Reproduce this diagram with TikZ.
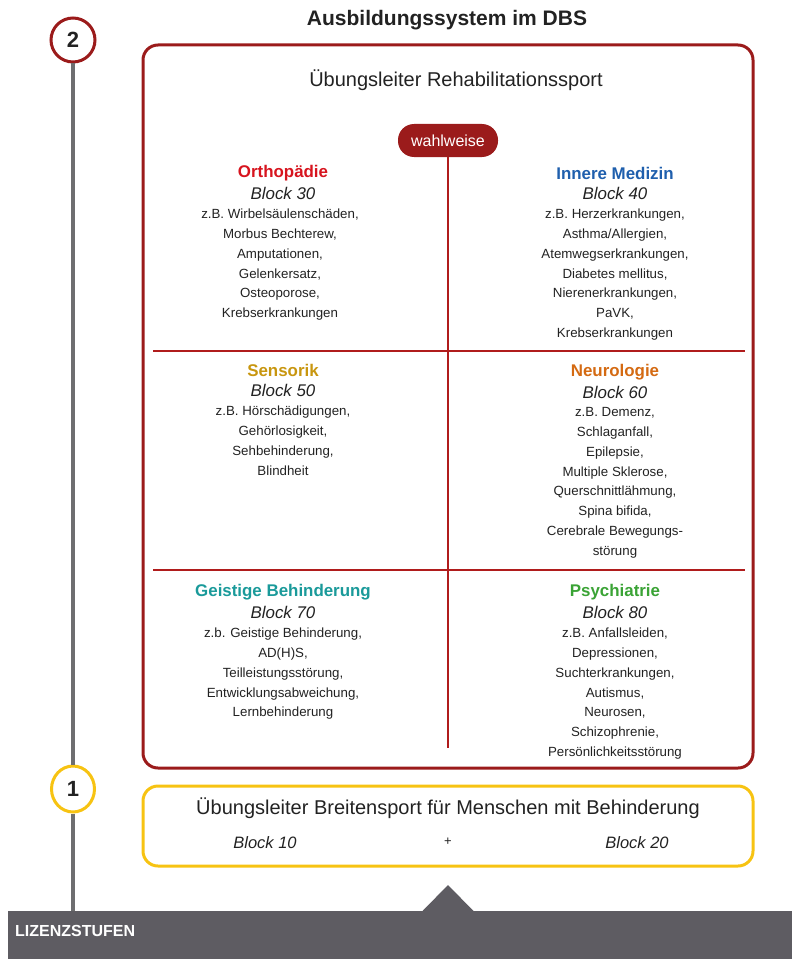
\documentclass[tikz,border=0pt]{standalone}
\usepackage{fontspec}
\usetikzlibrary{shapes.geometric}
\setmainfont{Liberation Sans}
\definecolor{dbsred}{HTML}{9B1B1B}
\definecolor{linered}{HTML}{B01C1C}
\definecolor{dbsyellow}{HTML}{F7C312}
\definecolor{barGray}{HTML}{5E5C62}
\definecolor{lineGray}{HTML}{6E6E70}
\definecolor{txt}{HTML}{222222}
\definecolor{cOrtho}{HTML}{D7141E}
\definecolor{cInnere}{HTML}{1F5FAD}
\definecolor{cSens}{HTML}{C8960F}
\definecolor{cNeuro}{HTML}{D46A12}
\definecolor{cGeist}{HTML}{1A9A9A}
\definecolor{cPsych}{HTML}{3AA335}
\tikzset{
  head/.style={font=\fontsize{16.9}{18}\selectfont\bfseries, inner sep=0pt, anchor=center},
  blk/.style={font=\fontsize{16.9}{18}\selectfont\itshape, text=txt, inner sep=0pt, anchor=center},
  items/.style={font=\fontsize{13.3}{19.8}\selectfont, text=txt, inner sep=0pt, anchor=base, align=center},
  numcircle/.style={circle, draw=#1, line width=3pt, fill=white, minimum size=44pt, inner sep=0pt,
     font=\fontsize{22}{22}\selectfont\bfseries, text=txt},
  divider/.style={draw=linered, line width=1.6pt},
}
\begin{document}
\begin{tikzpicture}[x=1pt,y=-1pt]
\useasboundingbox (0,0) rectangle (800,971);
% bottom bar
\fill[barGray] (8,911) rectangle (792,959);
\fill[barGray] (422,911.5) -- (448,885) -- (474,911.5) -- cycle;
\node[anchor=west, text=white, font=\fontsize{16}{17}\selectfont\bfseries, inner sep=0pt] (liz) at (15,931) {LIZENZSTUFEN};
\coordinate (barTop) at (73,911);
% circles
\node[numcircle=dbsred] (c2) at (73,40) {2};
\node[ellipse, draw=dbsyellow, line width=3pt, fill=white, minimum width=43pt, minimum height=46pt, inner sep=0pt,
     font=\fontsize{22}{22}\selectfont\bfseries, text=txt] (c1) at (73,789) {1};
\draw[lineGray, line width=4pt] (c2.south) -- (c1.north);
\draw[lineGray, line width=4pt] (c1.south) -- (barTop);
% title
\node[font=\fontsize{21}{22}\selectfont\bfseries, text=txt, inner sep=0pt] (title) at (447,20) {Ausbildungssystem im DBS};
% red box
\draw[dbsred, line width=3pt, rounded corners=15pt] (143,45) rectangle (753,768);
\node[font=\fontsize{20}{22}\selectfont, text=txt, inner sep=0pt] (reha) at (456,80) {Übungsleiter Rehabilitationssport};
% wahlweise
\node[rounded corners=16pt, fill=dbsred, text=white, minimum width=100pt, minimum height=33pt, inner sep=0pt,
      font=\fontsize{16}{16}\selectfont] (wahl) at (448,140.5) {wahlweise};
\coordinate (vEnd) at (448,748);
\coordinate (h1l) at (153,351);
\coordinate (h1r) at (745,351);
\coordinate (h2l) at (153,570);
\coordinate (h2r) at (745,570);
\draw[divider] (wahl.south) -- (vEnd);
\draw[divider] (h1l) -- (h1r);
\draw[divider] (h2l) -- (h2r);
% Orthopaedie
\node[head, text=cOrtho] (orthoH) at (283,173) {Orthopädie};
\node[blk] (orthoB) at (283,193) {Block 30};
\node[items] (orthoI) at (280,317.7) {z.B. Wirbelsäulenschäden,\\Morbus Bechterew,\\Amputationen,\\Gelenkersatz,\\Osteoporose,\\Krebserkrankungen};
% Innere Medizin
\node[head, text=cInnere] (innH) at (615,173) {Innere Medizin};
\node[blk] (innB) at (615,193) {Block 40};
\node[items] (innI) at (615,337.5) {z.B. Herzerkrankungen,\\Asthma/Allergien,\\Atemwegserkrankungen,\\Diabetes mellitus,\\Nierenerkrankungen,\\PaVK,\\Krebserkrankungen};
% Sensorik
\node[head, text=cSens] (senH) at (283,370) {Sensorik};
\node[blk] (senB) at (283,390) {Block 50};
\node[items] (senI) at (283,475.1) {z.B. Hörschädigungen,\\Gehörlosigkeit,\\Sehbehinderung,\\Blindheit};
% Neurologie
\node[head, text=cNeuro] (neuH) at (615,372) {Neurologie};
\node[blk] (neuB) at (615,392) {Block 60};
\node[items] (neuI) at (615,555.3) {z.B. Demenz,\\Schlaganfall,\\Epilepsie,\\Multiple Sklerose,\\Querschnittlähmung,\\Spina bifida,\\Cerebrale Bewegungs-\\störung};
% Geistige Behinderung
\node[head, text=cGeist] (geiH) at (283,592) {Geistige Behinderung};
\node[blk] (geiB) at (283,612) {Block 70};
\node[items] (geiI) at (283,716.9) {z.b. Geistige Behinderung,\\AD(H)S,\\Teilleistungsstörung,\\Entwicklungsabweichung,\\Lernbehinderung};
% Psychiatrie
\node[head, text=cPsych] (psyH) at (615,592) {Psychiatrie};
\node[blk] (psyB) at (615,612) {Block 80};
\node[items] (psyI) at (615,756.5) {z.B. Anfallsleiden,\\Depressionen,\\Suchterkrankungen,\\Autismus,\\Neurosen,\\Schizophrenie,\\Persönlichkeitsstörung};
% yellow box
\draw[dbsyellow, line width=3pt, rounded corners=15pt] (143,786) rectangle (753,866);
\node[font=\fontsize{20}{22}\selectfont, text=txt, inner sep=0pt] (breit) at (448,808) {Übungsleiter Breitensport für Menschen mit Behinderung};
\node[blk, font=\fontsize{16.5}{18}\selectfont\itshape] (b10) at (265,843) {Block 10};
\node[font=\fontsize{13}{14}\selectfont, text=txt, inner sep=0pt] (plus) at (448,842) {+};
\node[blk, font=\fontsize{16.5}{18}\selectfont\itshape] (b20) at (637,843) {Block 20};
\end{tikzpicture}
\end{document}
